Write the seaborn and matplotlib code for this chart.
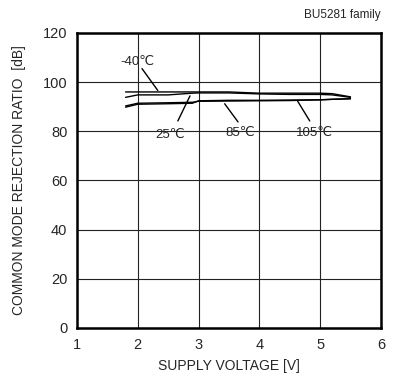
import pandas as pd
import matplotlib
matplotlib.use("Agg")
import matplotlib.pyplot as plt
import seaborn as sns

# supply voltage [V]
voltage = [1.8, 2.0, 2.5, 2.9, 3.0, 3.5, 4.0, 4.5, 5.0, 5.2, 5.5]
# CMRR [dB] per temperature
cmrr_m40 = [96.0, 96.0, 96.0, 96.0, 96.0, 96.0, 95.5, 95.5, 95.5, 95.3, 94.0]
cmrr_25 = [93.8, 94.8, 94.8, 95.5, 95.6, 95.6, 95.2, 95.0, 95.0, 94.8, 93.8]
cmrr_85 = [89.8, 91.0, 91.2, 91.4, 92.4, 92.6, 92.6, 92.7, 92.8, 93.0, 93.2]
cmrr_105 = [90.3, 91.4, 91.6, 91.8, 92.2, 92.3, 92.4, 92.5, 92.8, 93.0, 93.3]
temps = ["-40℃", "25℃", "85℃", "105℃"]

rows = []
for t, vals in zip(temps, [cmrr_m40, cmrr_25, cmrr_85, cmrr_105]):
    for v, c in zip(voltage, vals):
        rows.append({"V": v, "CMRR": c, "temp": t})
df = pd.DataFrame(rows)

sns.set_style("white")
plt.rcParams['font.family'] = ['Liberation Sans', 'DejaVu Sans']

fig = plt.figure(figsize=(4.03, 3.79), dpi=100)
ax = fig.add_axes([0.191, 0.135, 0.754, 0.778])

sns.lineplot(data=df, x="V", y="CMRR", hue="temp", palette=["black"] * 4,
             legend=False, linewidth=1.0, ax=ax)

ax.set_xlim(1, 6)
ax.set_ylim(0, 120)
ax.set_xticks([1, 2, 3, 4, 5, 6])
ax.set_yticks([0, 20, 40, 60, 80, 100, 120])
ax.grid(True, color="#222222", linewidth=0.8)
for s in ax.spines.values():
    s.set_color("black")
    s.set_linewidth(1.8)
ax.tick_params(labelsize=10.5, length=3, direction="in", width=1.5, pad=7)
ax.set_xlabel("SUPPLY VOLTAGE [V]", fontsize=10, labelpad=5)
ax.set_ylabel("COMMON MODE REJECTION RATIO  [dB]", fontsize=10, labelpad=12)

ax.text(1.0, 1.04, "BU5281 family", transform=ax.transAxes, ha="right",
        va="bottom", fontsize=8.5)

# temperature labels with leader lines
labels = [("-40℃", 1.99, 108.2, (2.07, 105.5), (2.33, 96.6)),
          ("25℃", 2.53, 78.5, (2.66, 84.2), (2.86, 94.4)),
          ("85℃", 3.68, 79.3, (3.65, 83.8), (3.43, 91.2)),
          ("105℃", 4.91, 79.3, (4.83, 84.2), (4.63, 92.3))]
for txt, tx, ty, p0, p1 in labels:
    ax.text(tx, ty, txt, ha="center", va="center", fontsize=9.5)
    ax.plot([p0[0], p1[0]], [p0[1], p1[1]], color="black", linewidth=1)

fig.savefig("out.png", dpi=100)
